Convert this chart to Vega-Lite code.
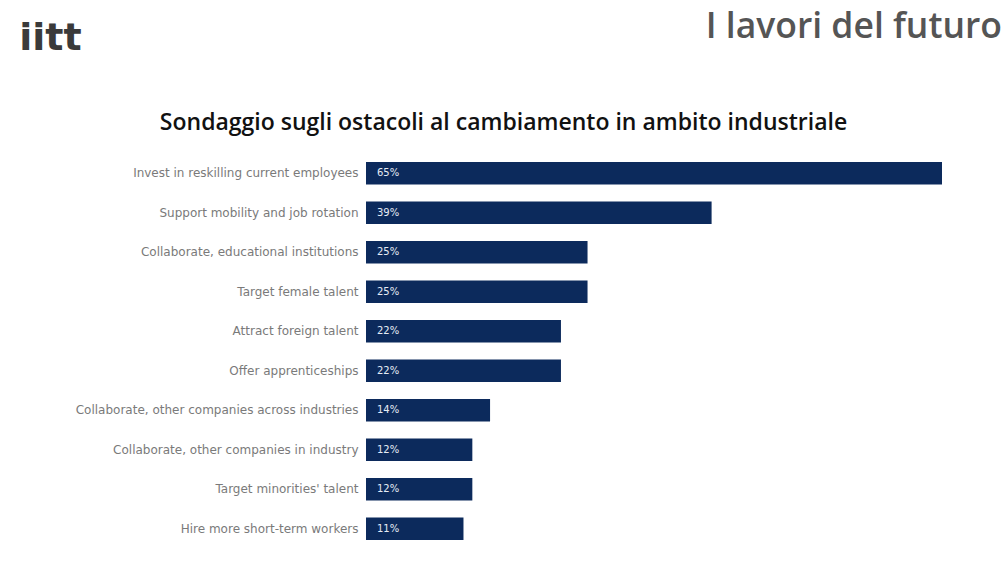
{
  "$schema": "https://vega.github.io/schema/vega-lite/v6.json",
  "autosize": "none",
  "width": 576,
  "height": 394,
  "padding": {"left": 366, "top": 154, "right": 66, "bottom": 18},
  "background": "white",
  "config": {"view": {"stroke": null}},
  "title": {
    "text": "I lavori del futuro",
    "anchor": "end",
    "frame": "group",
    "dx": 60,
    "offset": -26,
    "font": "Open Sans",
    "fontSize": 35.5,
    "fontWeight": 600,
    "color": "#555555"
  },
  "data": {
    "values": [
      {"azione": "Invest in reskilling current employees", "pct": 0.65},
      {"azione": "Support mobility and job rotation", "pct": 0.39},
      {"azione": "Collaborate, educational institutions", "pct": 0.25},
      {"azione": "Target female talent", "pct": 0.25},
      {"azione": "Attract foreign talent", "pct": 0.22},
      {"azione": "Offer apprenticeships", "pct": 0.22},
      {"azione": "Collaborate, other companies across industries", "pct": 0.14},
      {"azione": "Collaborate, other companies in industry", "pct": 0.12},
      {"azione": "Target minorities' talent", "pct": 0.12},
      {"azione": "Hire more short-term workers", "pct": 0.11}
    ]
  },
  "encoding": {
    "y": {
      "field": "azione",
      "type": "nominal",
      "sort": null,
      "scale": {"paddingInner": 0.43, "paddingOuter": 0.2},
      "axis": {
        "title": "iitt",
        "titleFont": "DejaVu Sans",
        "titleFontSize": 38,
        "titleFontWeight": "bold",
        "titleColor": "#3a3a3a",
        "titleAngle": 0,
        "titleAlign": "center",
        "titleBaseline": "middle",
        "titleX": -316,
        "titleY": -116,
        "domain": false,
        "ticks": false,
        "labelPadding": 8,
        "labelFont": "DejaVu Sans",
        "labelFontSize": 12,
        "labelColor": "#7a7a7a",
        "labelLimit": 400
      }
    }
  },
  "layer": [
    {
      "mark": {"type": "bar", "color": "#0c2a5c"},
      "encoding": {
        "x": {
          "field": "pct",
          "type": "quantitative",
          "scale": {"domain": [0, 0.65], "nice": false},
          "axis": {
            "orient": "top",
            "domain": false,
            "ticks": false,
            "labels": false,
            "grid": false,
            "title": "Sondaggio sugli ostacoli al cambiamento in ambito industriale",
            "titleFont": "Open Sans",
            "titleFontSize": 23,
            "titleFontWeight": 600,
            "titleColor": "#111111",
            "titleAnchor": "middle",
            "titleAlign": "center",
            "titleBaseline": "middle",
            "titleX": 137,
            "titleY": -32
          }
        }
      }
    },
    {
      "mark": {"type": "text", "align": "left", "dx": 11, "color": "#e6ecf5", "font": "DejaVu Sans", "fontSize": 10},
      "encoding": {
        "x": {"datum": 0, "type": "quantitative"},
        "text": {"field": "pct", "type": "quantitative", "format": ".0%"}
      }
    }
  ]
}
